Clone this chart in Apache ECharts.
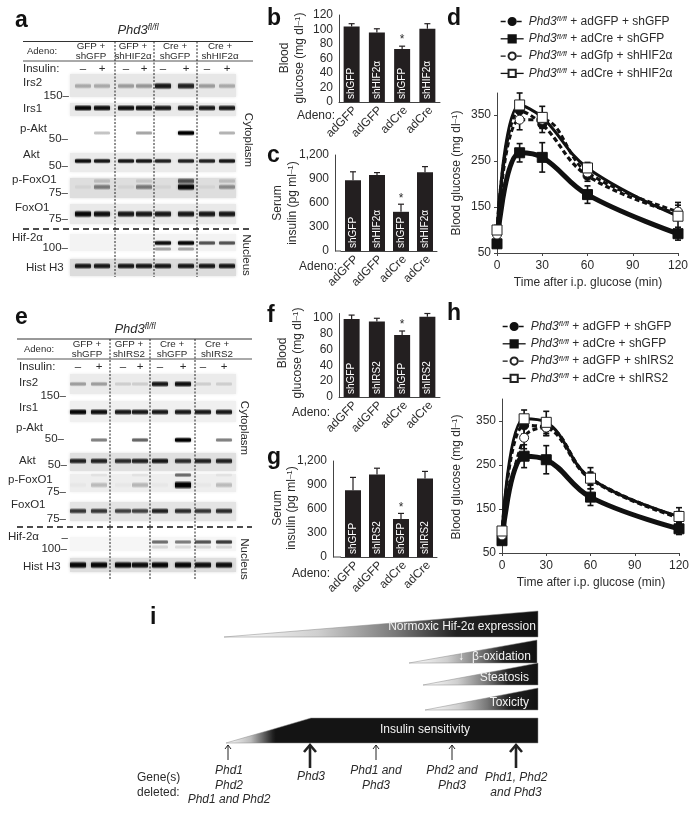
<!DOCTYPE html>
<html><head><meta charset="utf-8">
<style>html,body{margin:0;padding:0;background:#fff}#c{width:698px;height:813px}</style>
<script src="https://cdn.jsdelivr.net/npm/echarts@6/dist/echarts.min.js"></script>
</head><body><div id="c"></div>
<script>
const FF='"Liberation Sans",Arial,sans-serif', INK='#2b2b2b', BAR='#231f20';
// ---------- bar data
const adeno=['adGFP','adGFP','adCre','adCre'];
const shB=['shGFP','shHIF2α','shGFP','shHIF2α'];
const shF=['shGFP','shIRS2','shGFP','shIRS2'];
const bVals=[104,96,73,101], bTops=[108,101,77,108];
const cVals=[885,950,490,985], cTops=[990,980,585,1055];
const fVals=[98,95,78,101], fTops=[103,99,83,105];
const gVals=[835,1030,475,980], gTops=[995,1110,545,1070];
const starIndex=2;
// ---------- glucose curves
const times=[0,15,30,60,120];
const dGfpGfp=[100,360,330,218,135], dCreGfp=[70,268,258,177,92], dGfpHif=[90,340,340,225,140], dCreHif=[100,372,345,235,130];
const dErrGfpGfp=[10,20,18,12,12], dErrCreGfp=[8,20,32,19,14], dErrGfpHif=[10,22,15,12,14], dErrCreHif=[8,26,24,12,30];
const hGfpGfp=[95,340,335,218,130], hCreGfp=[78,270,262,177,105], hGfpIrs=[90,312,335,220,132], hCreIrs=[100,355,347,220,133];
const hErrGfpGfp=[8,20,18,14,12], hErrCreGfp=[8,26,32,19,13], hErrGfpIrs=[8,25,18,14,12], hErrCreIrs=[8,20,25,24,20];
const timeTicks=[0,30,60,90,120], glucoseTicks=[50,150,250,350];
// ---------- blot band strengths per lane
const aIrs2=[.25,.25,.3,.32,.85,.8,.3,.25], aIrs1=[.95,.9,.9,.9,.85,.85,.85,.85], aPAkt=[0,.22,0,.32,0,1,0,.28], aAkt=[.9,.85,.85,.85,.8,.8,.8,.85];
const aPFox=[.05,.42,.05,.42,.05,.95,.05,.35], aPFoxUp=[0,.15,0,.1,0,.6,0,.15], aFox=[.95,.9,.85,.85,.85,.85,.85,.85];
const aHif=[0,0,0,0,.9,.95,.6,.6], aHifLow=[0,0,0,0,.3,.3,0,0], aH3=[.85,.85,.85,.85,.85,.85,.85,.85];
const eIrs2=[.3,.3,.12,.12,.85,.9,.12,.12], eIrs1=[.95,.9,.85,.85,.85,.85,.85,.85], ePAkt=[0,.45,0,.55,0,1,0,.45], eAkt=[.8,.8,.75,.8,.85,.75,.8,.8];
const ePFox=[.03,.2,.03,.22,.03,1,.03,.2], ePFoxUp=[0,.05,0,.05,0,.5,0,.05], eFox=[.7,.7,.65,.65,.8,.75,.7,.75];
const eHif=[0,0,0,0,.5,.45,.6,.7], eHifLow=[0,0,0,0,.12,.1,.12,.12], eH3=[.95,.95,.95,.9,.95,.95,.9,.9];

const blots=[
 {lanes:[83,102,126,144,163,186,207,227],bx:69,bw:168,rows:[
  {v:aIrs2,y:86,h:6,t:73,b:98,bg:'#e7e7e7'},{v:aIrs1,y:108,h:5,t:102,b:117,bg:'#e9e9e9'},{v:aPAkt,y:133,h:4,t:0,b:0},{v:aAkt,y:161,h:4,t:152,b:173,bg:'#ebebeb'},
  {v:aPFox,y:187,h:6,t:177,b:199,bg:'#dedede'},{v:aPFoxUp,y:181,h:6,t:0,b:0},{v:aFox,y:214,h:6,t:203,b:225,bg:'#e9e9e9'},
  {v:aHif,y:243,h:4,t:233,b:252,bg:'#f3f3f3'},{v:aHifLow,y:249,h:4,t:0,b:0},{v:aH3,y:266,h:5,t:258,b:277,bg:'#dcdcdc'}]},
 {lanes:[78,99,123,140,160,183,203,224],bx:69,bw:168,rows:[
  {v:eIrs2,y:384,h:5,t:373,b:395,bg:'#ebebeb'},{v:eIrs1,y:412,h:5,t:400,b:423,bg:'#f0f0f0'},{v:ePAkt,y:440,h:4,t:0,b:0},{v:eAkt,y:461,h:5,t:452,b:472,bg:'#e0e0e0'},
  {v:ePFox,y:485,h:7,t:473,b:493,bg:'#eeeeee'},{v:ePFoxUp,y:475,h:4,t:0,b:0},{v:eFox,y:511,h:5,t:501,b:522,bg:'#e4e4e4'},
  {v:eHif,y:542,h:4,t:536,b:552,bg:'#f6f6f6'},{v:eHifLow,y:547,h:5,t:0,b:0},{v:eH3,y:565,h:6,t:557,b:573,bg:'#dedede'}]}
];
const blotData=[];
blots.forEach((p,pi)=>p.rows.forEach((r,ri)=>r.v.forEach((d,li)=>{if(d>0)blotData.push([pi,ri,li,d]);})));

// ---------- helpers
const g=[];
function T(x,y,text,o={}){const {rot,z,...st}=o;g.push({type:'text',x,y,rotation:rot||0,z:z||20,silent:true,style:Object.assign({text,fontFamily:FF,fontSize:11.5,fill:INK,align:'left',verticalAlign:'middle'},st)});}
function L(x1,y1,x2,y2,s={}){g.push({type:'line',z:s.z||15,silent:true,shape:{x1,y1,x2,y2},style:Object.assign({stroke:'#333',lineWidth:1},s)});}
const SUP={i:{fontStyle:'italic',fontFamily:FF,fontSize:12,fill:INK},s:{fontStyle:'italic',fontFamily:FF,fontSize:8,fill:INK,verticalAlign:'top',lineHeight:12},r:{fontFamily:FF,fontSize:12,fill:INK}};
const TITLE={i:{fontStyle:'italic',fontFamily:FF,fontSize:13,fill:INK},s:{fontStyle:'italic',fontFamily:FF,fontSize:8.5,fill:INK,verticalAlign:'top',lineHeight:13}};
const supRich={n:{fontFamily:FF,fontSize:12,fill:INK},e:{fontFamily:FF,fontSize:8,fill:INK,verticalAlign:'top',lineHeight:13}};

// panel letters
[['a',15,21],['b',267,19],['c',267,156],['d',447,19],['e',15,318],['f',267,316],['g',267,458],['h',447,314],['i',150,618]].forEach(a=>T(a[1],a[2],a[0],{fontSize:23,fontWeight:'bold',fill:'#111'}));

// blot decoration
function blotFrame(p){
 T(p.titleX,p.titleY,'{i|Phd3}{s|fl/fl}',{align:'center',rich:TITLE});
 L(p.x0,p.y1,p.x1,p.y1,{stroke:'#333',lineWidth:1});L(p.x0,p.y2,p.x1,p.y2,{stroke:'#555',lineWidth:1});
 T(p.adX,(p.y1+p.y2)/2,'Adeno:',{fontSize:9.5});
 p.hdr.forEach((h,i)=>T(p.hdrX[i],(p.y1+p.y2)/2,h,{align:'center',fontSize:9.8,lineHeight:9.7}));
 p.div.forEach(x=>L(x,p.y1,x,p.yEnd,{lineDash:[2,1.5],stroke:'#222',z:18}));
 L(p.x0,p.dash,p.x1,p.dash,{lineDash:[6,4],stroke:'#111',lineWidth:1.3,z:18});
 T(p.insX,p.insY,'Insulin:');
 p.lanes.forEach((x,i)=>T(x,p.insY,i%2?'+':'–',{align:'center',fontSize:11.5}));
 p.labels.forEach(l=>T(l[0],l[1],l[2]));
 p.mw.forEach(m=>T(m[0],m[1],m[2]+'–',{align:'right',fontSize:11.5}));
 T(p.cyt[0],p.cyt[1],'Cytoplasm',{rot:-Math.PI/2,align:'center',fontSize:11.5});
 T(p.nuc[0],p.nuc[1],'Nucleus',{rot:-Math.PI/2,align:'center',fontSize:11.5});
}
blotFrame({titleX:138,titleY:30,x0:23,x1:253,y1:41.5,y2:61,adX:27,hdr:['GFP +\nshGFP','GFP +\nshHIF2α','Cre +\nshGFP','Cre +\nshHIF2α'],hdrX:[91,133,175,220],div:[115,154,197],yEnd:277,dash:229,insX:23,insY:69,lanes:blots[0].lanes,
 labels:[[23,83,'Irs2'],[23,109,'Irs1'],[20,129,'p-Akt'],[23,155,'Akt'],[12,180,'p-FoxO1'],[15,208,'FoxO1'],[12,238,'Hif-2α'],[26,268,'Hist H3']],
 mw:[[69,96,'150'],[68,139,'50'],[68,166,'50'],[68,193,'75'],[68,219,'75'],[68,248,'100']],cyt:[248,140],nuc:[246,255]});
blotFrame({titleX:135,titleY:329,x0:17,x1:252,y1:339,y2:359,adX:24,hdr:['GFP +\nshGFP','GFP +\nshIRS2','Cre +\nshGFP','Cre +\nshIRS2'],hdrX:[87,129,172,217],div:[110,150,195],yEnd:579,dash:527,insX:19,insY:367,lanes:blots[1].lanes,
 labels:[[19,383,'Irs2'],[19,408,'Irs1'],[16,428,'p-Akt'],[19,461,'Akt'],[8,480,'p-FoxO1'],[11,505,'FoxO1'],[8,537,'Hif-2α'],[23,567,'Hist H3']],
 mw:[[66,396,'150'],[64,439,'50'],[67,465,'50'],[66,492,'75'],[66,519,'75'],[67,549,'100'],[68,538,'']],cyt:[244,428],nuc:[244,559]});
blots.forEach(p=>p.rows.forEach(r=>{if(r.bg)g.push({type:'rect',z:0,silent:true,shape:{x:p.bx+1,y:r.t+1,width:p.bw-2,height:r.b-r.t-2},style:{fill:r.bg,shadowBlur:3,shadowColor:r.bg}});}));

// bar axis titles
function barTitle(x1,x2,y,first,unit){T(x1,y,first,{rot:Math.PI/2,align:'center',fontSize:12});T(x2,y,'{n|'+unit+'}{e|–1}{n|)}',{rot:Math.PI/2,align:'center',rich:supRich});}
barTitle(285,300,58,'Blood','glucose (mg dl');
barTitle(278,293,203,'Serum','insulin (pg ml');
barTitle(283,298,353,'Blood','glucose (mg dl');
barTitle(278,292,508,'Serum','insulin (pg ml');
T(297,116,'Adeno:',{fontSize:12});T(299,267,'Adeno:',{fontSize:12});T(292,413,'Adeno:',{fontSize:12});T(292,574,'Adeno:',{fontSize:12});
L(335,251,341,251,{stroke:'#444'});L(333,557,341,557,{stroke:'#444'});

// line axis titles
[[457,173],[457,477]].forEach(p=>T(p[0],p[1],'{n|Blood glucose (mg dl}{e|–1}{n|)}',{rot:Math.PI/2,align:'center',rich:supRich}));
T(588,283,'Time after i.p. glucose (min)',{align:'center',fontSize:12});T(591,583,'Time after i.p. glucose (min)',{align:'center',fontSize:12});

// panel i
function LG(stops){return new echarts.graphic.LinearGradient(0,0,1,0,stops.map(s=>({offset:s[0],color:s[1]})));}
function wedge(pts,stops){g.push({type:'polygon',z:5,silent:true,shape:{points:pts},style:{fill:LG(stops),stroke:'#888',lineWidth:.5}});}
const wedgeStops=[[0,'#ffffff'],[.3,'#cfcfcf'],[.55,'#777777'],[.74,'#222222'],[1,'#111']];
wedge([[224,637],[538,611],[538,637]],wedgeStops);
wedge([[409,663],[537,640],[537,663]],wedgeStops);
wedge([[423,685],[538,663],[538,685]],wedgeStops);
wedge([[425,710],[538,688],[538,710]],wedgeStops);
wedge([[226,743],[311,718],[538,718],[538,743]],[[0,'#fff'],[.08,'#bbb'],[.15,'#222'],[.16,'#141414'],[1,'#141414']]);
T(462,627,'Normoxic Hif-2α expression',{align:'center',fill:'#f2f2f2',fontSize:12});
T(461,657,'↓',{align:'center',fill:'#fff',fontSize:12});
T(472,657,'β-oxidation',{fill:'#f2f2f2',fontSize:12});
T(529,678,'Steatosis',{align:'right',fill:'#f2f2f2',fontSize:12});
T(529,703,'Toxicity',{align:'right',fill:'#f2f2f2',fontSize:12});
T(425,730,'Insulin sensitivity',{align:'center',fill:'#f2f2f2',fontSize:12});
function arrow(x,big){const end=big?768:760,w=big?2.6:1,a=big?6:3,lw=big?2.6:1;
 L(x,745,x,end,{stroke:'#222',lineWidth:w});
 g.push({type:'polyline',z:15,silent:true,shape:{points:[[x-a,745+a+1],[x,745],[x+a,745+a+1]]},style:{fill:'none',stroke:'#222',lineWidth:lw}});}
arrow(228,false);arrow(310,true);arrow(376,false);arrow(452,false);arrow(516,true);
const I={align:'center',fontStyle:'italic',fontSize:12};
T(229,771,'Phd1',I);T(229,786,'Phd2',I);T(229,800,'Phd1 and Phd2',I);
T(311,777,'Phd3',I);T(376,771,'Phd1 and',I);T(376,786,'Phd3',I);T(452,771,'Phd2 and',I);T(452,786,'Phd3',I);
T(516,778,'Phd1, Phd2',I);T(516,793,'and Phd3',I);
T(137,778,'Gene(s)',{fontSize:12});T(137,793,'deleted:',{fontSize:12});

// ---------- chart parts
const grids=[{left:339,top:15,width:101,height:87},{left:341,top:155,width:96,height:96},{left:339,top:313.5,width:101,height:83.5},{left:341,top:461,width:96,height:96},{left:497,top:93,width:181,height:160},{left:502,top:399,width:177,height:154}];
const axLine={lineStyle:{color:'#444',width:1}};
const axLab={fontFamily:FF,fontSize:12,color:INK};
const xAxes=[0,1,2,3].map(i=>({type:'category',gridIndex:i,data:adeno,axisTick:{show:false},axisLine:axLine,axisLabel:Object.assign({},axLab,{rotate:45,interval:0,margin:10,padding:[0,-5,0,0]})}));
const commaFmt=v=>v>=1000?String(v).replace(/(\d)(\d{3})$/,'$1,$2'):String(v);
const yTick={length:3,lineStyle:{color:'#444'}};
const yAxes=[
 {type:'value',gridIndex:0,min:0,max:120,interval:20,axisLine:Object.assign({show:true},axLine),axisTick:yTick,splitLine:{show:false},axisLabel:Object.assign({},axLab,{margin:6})},
 {type:'value',gridIndex:1,min:0,max:1200,interval:300,offset:6,axisLine:Object.assign({show:true},axLine),axisTick:yTick,splitLine:{show:false},axisLabel:Object.assign({},axLab,{margin:6,formatter:commaFmt})},
 {type:'value',gridIndex:2,min:0,max:105,axisLine:Object.assign({show:true},axLine),axisTick:Object.assign({customValues:[0,20,40,60,80,100]},yTick),splitLine:{show:false},axisLabel:Object.assign({},axLab,{margin:6,customValues:[0,20,40,60,80,100]})},
 {type:'value',gridIndex:3,min:0,max:1200,interval:300,offset:8,axisLine:Object.assign({show:true},axLine),axisTick:yTick,splitLine:{show:false},axisLabel:Object.assign({},axLab,{margin:6,formatter:commaFmt})}
];
[[4,398],[5,400]].forEach(a=>{
 xAxes.push({type:'value',gridIndex:a[0],min:0,max:120,axisLine:Object.assign({onZero:false},axLine),axisTick:Object.assign({customValues:timeTicks},yTick),splitLine:{show:false},axisLabel:Object.assign({},axLab,{margin:7,customValues:timeTicks})});
 yAxes.push({type:'value',gridIndex:a[0],min:50,max:a[1],axisLine:Object.assign({show:true,onZero:false},axLine),axisTick:Object.assign({customValues:glucoseTicks},yTick),splitLine:{show:false},axisLabel:Object.assign({},axLab,{margin:6,customValues:glucoseTicks})});
});
const series=[];
series.push({type:'custom',coordinateSystem:'none',z:1,silent:true,data:blotData,renderItem(p,api){
 const P=blots[api.value(0)],R=P.rows[api.value(1)],x=P.lanes[api.value(2)],d=api.value(3),w=16,h=R.h*(.55+.45*d)+2;
 const c=a=>`rgba(0,0,0,${a})`;
 const fill=new echarts.graphic.LinearGradient(0,0,0,1,[{offset:0,color:c(0)},{offset:.35,color:c(d)},{offset:.65,color:c(d)},{offset:1,color:c(0)}]);
 return {type:'rect',shape:{x:x-w/2,y:R.y-h/2,width:w,height:h,r:2},style:{fill,shadowBlur:3,shadowColor:c(d*.4)}};}});
function bars(i,vals,tops,labels){
 series.push({type:'bar',xAxisIndex:i,yAxisIndex:i,barWidth:16,silent:true,itemStyle:{color:BAR},data:vals.map((v,k)=>({value:v,label:{formatter:labels[k]}})),
  label:{show:true,position:'insideBottom',rotate:90,align:'left',verticalAlign:'middle',distance:3,color:'#fff',fontFamily:FF,fontSize:10}});
 series.push({type:'custom',xAxisIndex:i,yAxisIndex:i,silent:true,clip:false,z:3,data:vals.map((v,k)=>[k,v,tops[k]]),encode:{x:0,y:[1,2]},renderItem(p,api){
  const a=api.coord([api.value(0),api.value(1)]),b=api.coord([api.value(0),api.value(2)]);
  const kids=[{type:'line',shape:{x1:a[0],y1:a[1],x2:a[0],y2:b[1]},style:{stroke:BAR,lineWidth:1.2}},{type:'line',shape:{x1:a[0]-3,y1:b[1],x2:a[0]+3,y2:b[1]},style:{stroke:BAR,lineWidth:1.2}}];
  if(api.value(0)===starIndex)kids.push({type:'text',style:{text:'*',x:a[0],y:b[1]-6,align:'center',verticalAlign:'middle',fontFamily:FF,fontSize:12,fill:INK}});
  return {type:'group',children:kids};}});
}
bars(0,bVals,bTops,shB);bars(1,cVals,cTops,shB);bars(2,fVals,fTops,shF);bars(3,gVals,gTops,shF);
function curve(i,name,vals,errs,sym,open,dash,width){
 series.push({type:'custom',xAxisIndex:i,yAxisIndex:i,silent:true,clip:false,z:1,data:vals.map((v,k)=>[times[k],v-errs[k],v+errs[k]]),encode:{x:0,y:[1,2]},renderItem(p,api){
  const a=api.coord([api.value(0),api.value(1)]),b=api.coord([api.value(0),api.value(2)]),c=3;
  const s={stroke:'#111',lineWidth:1.6};
  return {type:'group',children:[{type:'line',shape:{x1:a[0],y1:a[1],x2:a[0],y2:b[1]},style:s},{type:'line',shape:{x1:a[0]-c,y1:a[1],x2:a[0]+c,y2:a[1]},style:s},{type:'line',shape:{x1:a[0]-c,y1:b[1],x2:a[0]+c,y2:b[1]},style:s}]};}});
 series.push({type:'line',name,xAxisIndex:i,yAxisIndex:i,smooth:.4,silent:true,clip:false,animation:false,z:open?4:3,symbol:sym,symbolSize:sym==='rect'?10:9,showAllSymbol:true,
  lineStyle:{color:'#111',width,type:dash?[5,3]:'solid'},itemStyle:{color:open?'#fff':'#111',borderColor:open?'#222':'#111',borderWidth:1},data:vals.map((v,k)=>[times[k],v])});
}
const names={d1:' + adGFP + shGFP',d2:' + adCre + shGFP',d3:' + adGfp + shHIF2α',d4:' + adCre + shHIF2α',h1:' + adGFP + shGFP',h2:' + adCre + shGFP',h3:' + adGFP + shIRS2',h4:' + adCre + shIRS2'};
curve(4,'d1',dGfpGfp,dErrGfpGfp,'circle',false,true,3.2);curve(4,'d2',dCreGfp,dErrCreGfp,'rect',false,false,5);curve(4,'d3',dGfpHif,dErrGfpHif,'circle',true,true,3);curve(4,'d4',dCreHif,dErrCreHif,'rect',true,false,3);
curve(5,'h1',hGfpGfp,hErrGfpGfp,'circle',false,true,3.2);curve(5,'h2',hCreGfp,hErrCreGfp,'rect',false,false,5);curve(5,'h3',hGfpIrs,hErrGfpIrs,'circle',true,true,3);curve(5,'h4',hCreIrs,hErrCreIrs,'rect',true,false,3);
function leg(left,top,keys){return {orient:'vertical',left,top,itemWidth:23,itemHeight:9,itemGap:4.3,selectedMode:false,data:keys,lineStyle:{width:1.3},formatter:n=>'{i|Phd3}{s|fl/fl}{r|'+names[n]+'}',textStyle:{fontFamily:FF,fontSize:12,color:INK,lineHeight:13,rich:SUP},padding:0};}
const chart=echarts.init(document.getElementById('c'),null,{renderer:'canvas'});
chart.setOption({animation:false,backgroundColor:'#fff',grid:grids,xAxis:xAxes,yAxis:yAxes,series,
 legend:[leg(500,15,['d1','d2','d3','d4']),leg(502,320,['h1','h2','h3','h4'])],
 graphic:{elements:g}});
</script></body></html>
